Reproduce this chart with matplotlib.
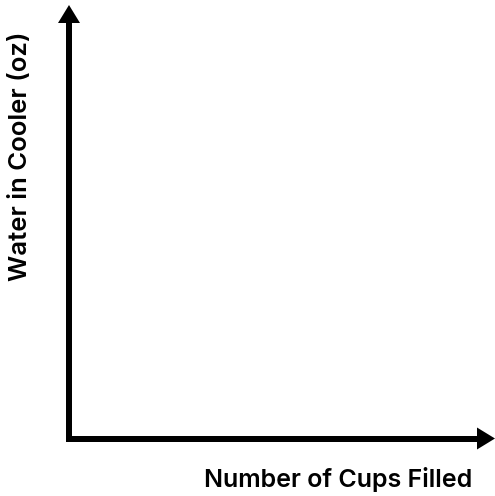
import matplotlib.pyplot as plt

x_label = "Number of Cups Filled"
y_label = "Water in Cooler (oz)"

fig = plt.figure(figsize=(4.95, 4.96), dpi=100)
ax = fig.add_axes([0, 0, 1, 1])
ax.set_xlim(0, 495)
ax.set_ylim(496, 0)
ax.axis("off")

ox, oy = 69, 438.5
lw = 6 * 72 / 100

# axis lines with arrow heads
ax.plot([ox, ox], [oy + 3, 20], color="black", lw=lw, solid_capstyle="butt")
ax.plot([ox - 3, 478], [oy, oy], color="black", lw=lw, solid_capstyle="butt")
ax.fill([ox - 11, ox + 11, ox], [23, 23, 5], color="black", lw=0)
ax.fill([477, 477, 495], [oy - 11, oy + 11, oy], color="black", lw=0)

ax.text(338, 479, x_label, ha="center", va="center", fontsize=18,
        family="Inter", weight="semibold")
ax.text(21, 156, y_label, ha="center", va="center", rotation=90,
        fontsize=18.5, family="Inter", weight="semibold")

fig.savefig("out.png", dpi=100)
